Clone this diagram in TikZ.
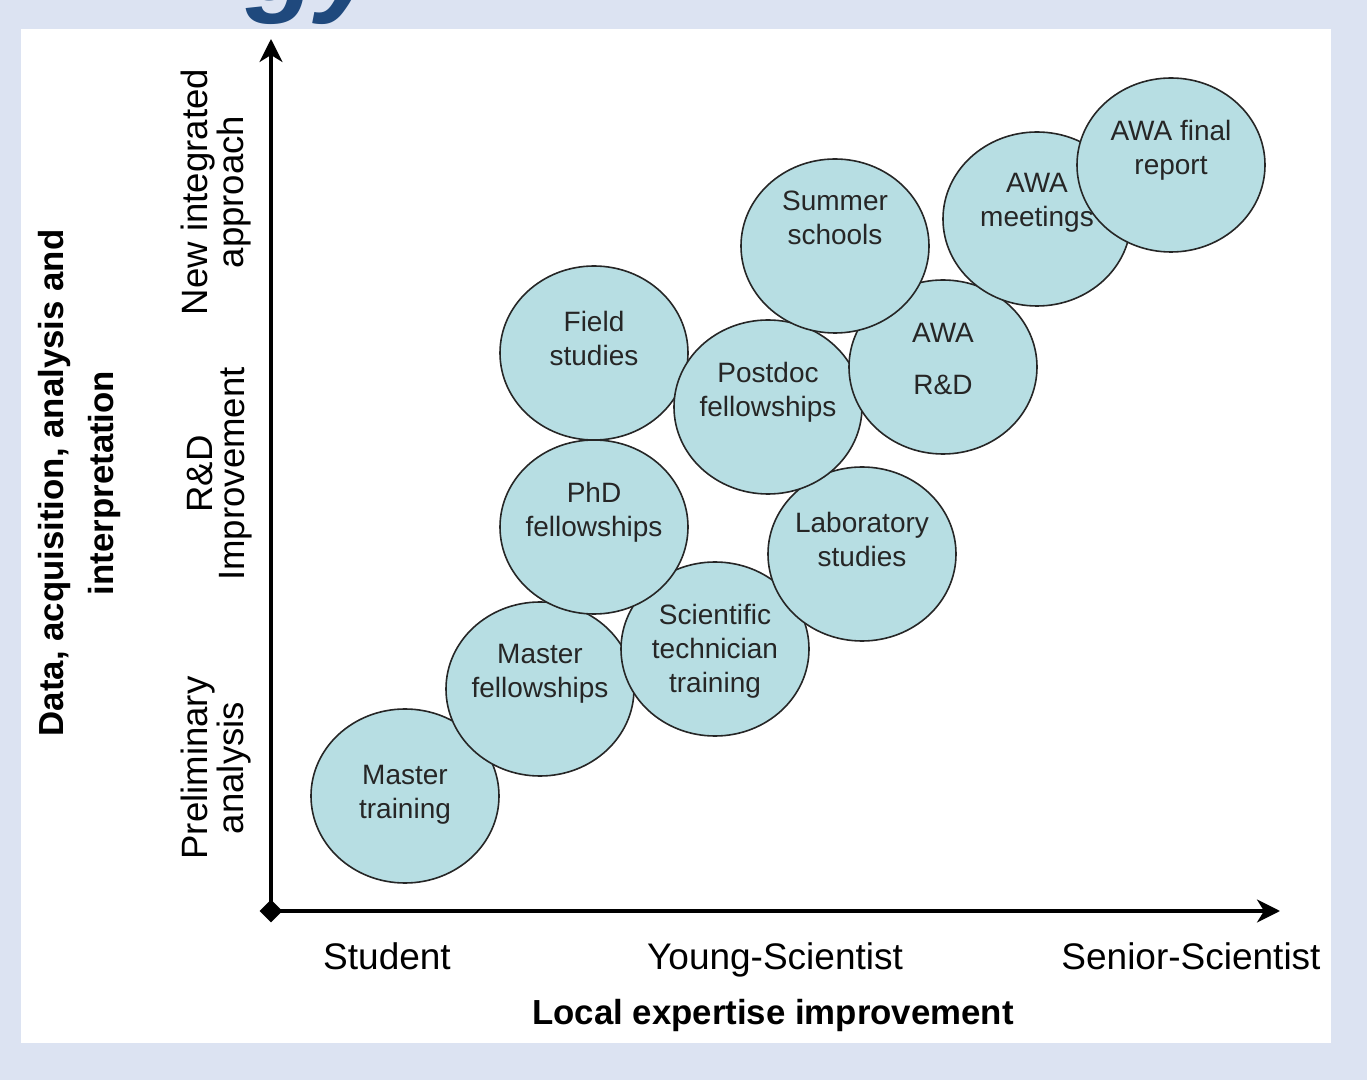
\documentclass[tikz,border=0pt]{standalone}
\usepackage{fontspec}
\setmainfont{Liberation Sans}
\usetikzlibrary{arrows.meta,shapes.geometric}

\definecolor{bubblefill}{RGB}{183,222,227}
\definecolor{pagebg}{RGB}{220,227,242}
\definecolor{titleblue}{RGB}{31,73,125}

\tikzset{
  bubble/.style={ellipse,draw=black!85,line width=0.8pt,fill=bubblefill,
    minimum width=94pt,minimum height=87pt,inner sep=0pt},
  btext/.style={align=center,text=black!85,font=\fontsize{14}{17}\selectfont},
  stage/.style={anchor=base,font=\fontsize{18.5}{22}\selectfont},
  level/.style={rotate=90,align=center,font=\fontsize{18.3}{16}\selectfont},
  axislabel/.style={font=\fontsize{17.4}{25}\selectfont\bfseries},
  axis/.style={line width=1.7pt,-{Stealth[length=11.5pt,width=11.5pt,inset=3.5pt]}}
}

\begin{document}
\begin{tikzpicture}[x=0.5pt,y=-0.5pt]
    \fill[pagebg] (0,0) rectangle (1367,1080);
    \fill[white] (21,29) rectangle (1331,1043);
    \useasboundingbox (0,0) rectangle (1367,1080);
    \node[anchor=base west,inner sep=0pt,text=titleblue,
      font=\fontsize{58}{58}\selectfont\bfseries\itshape] (title) at (246,1) {gy};

    % axes
    \node[diamond,fill=black,inner sep=0pt,minimum size=11.5pt] (o) at (271,911) {};
    \coordinate (ytop) at (271,39);
    \coordinate (xend) at (1280,911);
    \draw[axis] (o.center) -- (ytop);
    \draw[axis] (o.center) -- (xend);

    % bubbles
    \node[bubble] (mtrain) at (405,796) {};
    \node[bubble] (mfell) at (540,689) {};
    \node[bubble] (sci) at (715,649) {};
    \node[bubble] (phd) at (594,527) {};
    \node[bubble] (field) at (594,353) {};
    \node[bubble] (lab) at (862,554) {};
    \node[bubble] (postdoc) at (768,407) {};
    \node[bubble] (award) at (943,367) {};
    \node[bubble] (summer) at (835,246) {};
    \node[bubble] (awameet) at (1037,219) {};
    \node[bubble] (awafinal) at (1171,165) {};

    \node[btext] (mtrain-t) at (405,795) {Master\\training};
    \node[btext] (mfell-t) at (540,674) {Master\\fellowships};
    \node[btext] (sci-t) at (715,651) {Scientific\\technician\\training};
    \node[btext] (phd-t) at (594,512) {PhD\\fellowships};
    \node[btext] (field-t) at (594,338) {Field\\studies};
    \node[btext] (lab-t) at (862,539) {Laboratory\\studies};
    \node[btext] (postdoc-t) at (768,392) {Postdoc\\fellowships};
    \node[btext,font=\fontsize{14}{26}\selectfont] (award-t) at (943,359) {AWA\\R\&D};
    \node[btext] (summer-t) at (835,218) {Summer\\schools};
    \node[btext] (awameet-t) at (1037,203) {AWA\\meetings};
    \node[btext] (awafinal-t) at (1171,150) {AWA final\\report};

    % labels on the x axis
    \node[stage] (student) at (387,969) {Student};
    \node[stage] (young) at (775,969) {Young-Scientist};
    \node[stage] (senior) at (1191,969) {Senior-Scientist};
    \node[axislabel,anchor=base] (xlabel) at (773,1024) {Local expertise improvement};

    % labels on the y axis
    \node[level] (prelim) at (216,768) {Preliminary\\analysis};
    \node[level] (rnd) at (220,474) {R\&D\\Improvement};
    \node[level] (newapp) at (216,192) {New integrated\\approach};
    \node[axislabel,rotate=90,align=center] (ylabel) at (80,483) {Data, acquisition, analysis and\\interpretation};
\end{tikzpicture}
\end{document}
